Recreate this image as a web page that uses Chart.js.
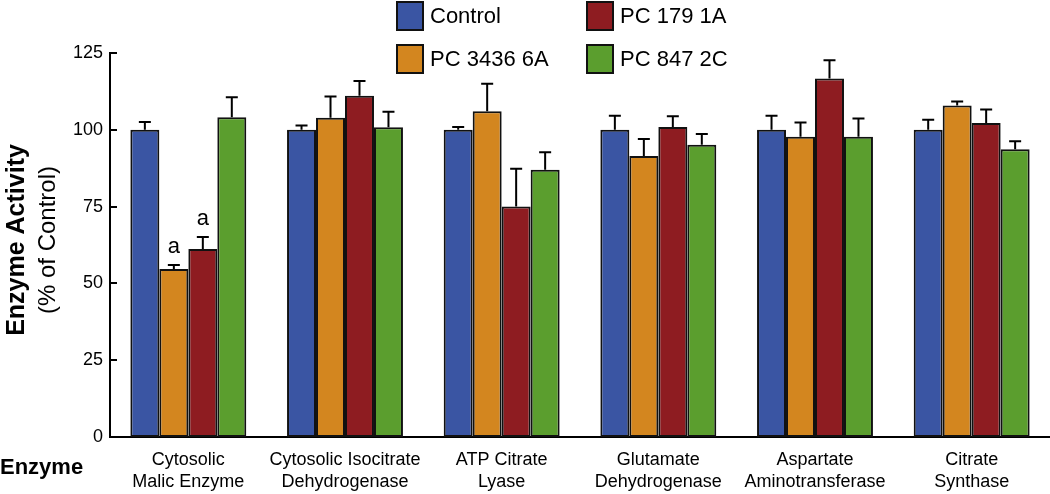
<!DOCTYPE html>
<html>
<head>
<meta charset="utf-8">
<script src="https://cdn.jsdelivr.net/npm/chart.js@4/dist/chart.umd.min.js"></script>
<style>
  body { margin: 0; background: #fff; }
  #wrap { width: 1050px; height: 494px; }
</style>
</head>
<body>
<div id="wrap"><canvas id="js--chart--1" width="1050" height="494"></canvas></div>
<script>
const enzymes = [
  ["Cytosolic", "Malic Enzyme"],
  ["Cytosolic Isocitrate", "Dehydrogenase"],
  ["ATP Citrate", "Lyase"],
  ["Glutamate", "Dehydrogenase"],
  ["Aspartate", "Aminotransferase"],
  ["Citrate", "Synthase"],
];
const seriesNames = ["Control", "PC 3436 6A", "PC 179 1A", "PC 847 2C"];
const seriesColors = ["#3A55A3", "#D3861F", "#8E1C21", "#5B9E2E"];

const control = [100, 100, 100, 100, 100, 100];
const pc3436 = [54.7, 103.9, 106, 91.5, 97.7, 107.9];
const pc179 = [61.2, 111.1, 75, 100.9, 116.7, 102.2];
const pc847 = [104.1, 100.8, 87, 95.1, 97.7, 93.7];

// SEM (upper error bars only)
const controlErr = [2.5, 1.4, 0.9, 4.6, 4.6, 3.3];
const pc3436Err = [1.3, 6.9, 9, 5.5, 4.7, 1.3];
const pc179Err = [3.9, 4.8, 12.3, 3.5, 5.9, 4.4];
const pc847Err = [6.5, 5.1, 5.7, 3.5, 6, 2.6];

// significance letters
const pc3436Sig = ["a", "", "", "", "", ""];
const pc179Sig = ["a", "", "", "", "", ""];

const yTicks = [0, 25, 50, 75, 100, 125];

const allValues = [control, pc3436, pc179, pc847];
const allErrs = [controlErr, pc3436Err, pc179Err, pc847Err];
const allSigs = [null, pc3436Sig, pc179Sig, null];

const FONT = "'Liberation Sans', Arial, Helvetica, sans-serif";

const extras = {
  id: 'extras',
  afterDatasetsDraw(chart) {
    const ctx = chart.ctx;
    const y = chart.scales.y;
    const area = chart.chartArea;
    ctx.save();

    // error bars + letters
    ctx.strokeStyle = '#000';
    ctx.lineWidth = 2;
    ctx.fillStyle = '#000';
    ctx.font = '22px ' + FONT;
    ctx.textAlign = 'center';
    allValues.forEach((vals, d) => {
      const meta = chart.getDatasetMeta(d);
      meta.data.forEach((bar, i) => {
        const top = y.getPixelForValue(vals[i]);
        const errTop = y.getPixelForValue(vals[i] + allErrs[d][i]);
        ctx.beginPath();
        ctx.moveTo(bar.x, top);
        ctx.lineTo(bar.x, errTop);
        ctx.moveTo(bar.x - 6, errTop);
        ctx.lineTo(bar.x + 6, errTop);
        ctx.stroke();
        if (allSigs[d] && allSigs[d][i]) {
          ctx.fillText(allSigs[d][i], bar.x, errTop - 12);
        }
      });
    });

    // inward ticks on y axis
    ctx.lineWidth = 2;
    yTicks.forEach(t => {
      const py = Math.round(y.getPixelForValue(t));
      ctx.beginPath();
      ctx.moveTo(area.left, py);
      ctx.lineTo(area.left + 7, py);
      ctx.stroke();
    });

    // y axis title
    ctx.save();
    ctx.translate(24, 240);
    ctx.rotate(-Math.PI / 2);
    ctx.font = 'bold 25px ' + FONT;
    ctx.fillText('Enzyme Activity', 0, 0);
    ctx.restore();
    ctx.save();
    ctx.translate(55, 240);
    ctx.rotate(-Math.PI / 2);
    ctx.font = '24px ' + FONT;
    ctx.fillText('(% of Control)', 0, 0);
    ctx.restore();

    // x axis title
    ctx.font = 'bold 22px ' + FONT;
    ctx.textAlign = 'left';
    ctx.textBaseline = 'middle';
    ctx.fillText('Enzyme', 0, 468);

    // legend, 2 rows x 2 columns
    const legendPos = [[397, 2], [397, 45], [587, 2], [587, 45]];
    ctx.font = '22px ' + FONT;
    seriesNames.forEach((name, k) => {
      const [lx, ly] = legendPos[k];
      ctx.fillStyle = seriesColors[k];
      ctx.fillRect(lx, ly, 26, 28);
      ctx.strokeStyle = '#111';
      ctx.lineWidth = 2;
      ctx.strokeRect(lx, ly, 26, 28);
      ctx.fillStyle = '#000';
      ctx.fillText(name, lx + 33, ly + 15);
    });

    ctx.restore();
  }
};

const datasets = seriesNames.map((name, k) => ({
  label: name,
  data: allValues[k],
  backgroundColor: seriesColors[k],
  borderColor: '#111',
  borderWidth: 2,
  borderSkipped: false,
}));

const config = {
  type: 'bar',
  data: { labels: enzymes, datasets: datasets },
  options: {
    responsive: false,
    animation: false,
    devicePixelRatio: 1,
    layout: { padding: { top: 53, left: 0, right: 0, bottom: 0 } },
    categoryPercentage: 0.74,
    barPercentage: 1.0,
    plugins: { legend: { display: false }, tooltip: { enabled: false } },
    scales: {
      x: {
        grid: { display: false, drawTicks: false },
        border: { display: true, color: '#000', width: 2 },
        ticks: {
          color: '#000',
          font: { family: FONT, size: 18, lineHeight: 1.17 },
          padding: 13,
          maxRotation: 0,
          autoSkip: false,
        },
        afterFit(scale) { scale.height = 57; },
      },
      y: {
        min: 0,
        max: 125,
        afterBuildTicks(scale) { scale.ticks = yTicks.map(v => ({ value: v })); },
        grid: { display: false, drawTicks: false },
        border: { display: true, color: '#000', width: 2 },
        ticks: {
          color: '#000',
          font: { family: FONT, size: 18 },
          padding: 7,
        },
        afterFit(scale) { scale.width = 110; },
      }
    }
  },
  plugins: [extras],
};

new Chart(document.getElementById("js--chart--1"), config);
</script>
</body>
</html>
